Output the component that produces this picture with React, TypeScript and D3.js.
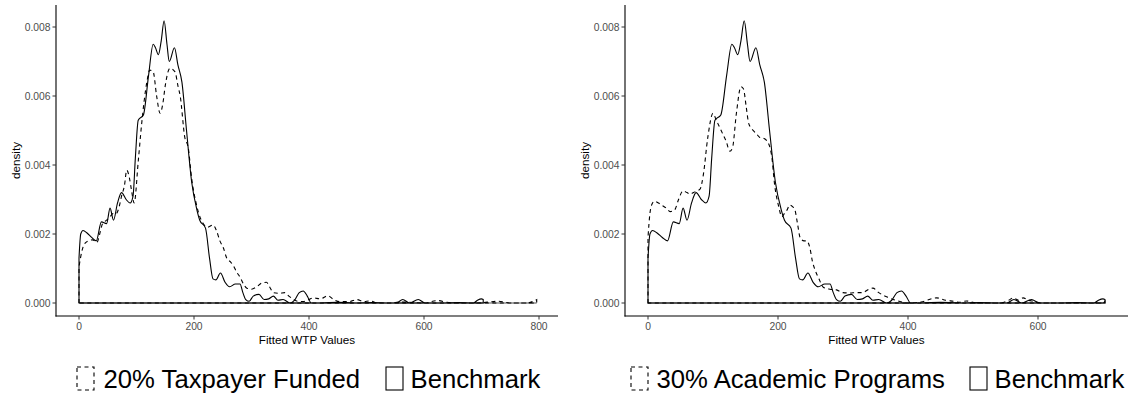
import React from "react";
import * as d3 from "d3";

// Benchmark density (solid)
const benchX = [0, 3, 7, 14, 22, 30, 39, 48, 54, 60, 67, 74, 82, 89, 94, 98, 103, 112, 121, 129, 133, 138, 143, 148, 153, 157, 166, 172, 179, 187, 196, 205, 210, 220, 227, 233, 238, 246, 254, 262, 272, 280, 285, 290, 296, 303, 313, 322, 330, 338, 346, 355, 367, 375, 383, 390, 397, 404, 420, 450, 480, 510, 540, 552, 563, 575, 590, 602, 630, 660, 686, 693, 700, 703];
const benchY = [0.0013, 0.002, 0.0021, 0.00203, 0.0019, 0.0018, 0.00235, 0.0023, 0.00275, 0.0024, 0.0029, 0.0032, 0.003, 0.0029, 0.0031, 0.0042, 0.0053, 0.00545, 0.0066, 0.0075, 0.0074, 0.0072, 0.0076, 0.00818, 0.0075, 0.007, 0.0074, 0.0069, 0.0064, 0.005, 0.0035, 0.0027, 0.0024, 0.00217, 0.0013, 0.0007, 0.00067, 0.00087, 0.0006, 0.00047, 0.00055, 0.00055, 0.0003, 0.0001, 0.00005, 0.0002, 0.00025, 0.0001, 0.00012, 0.0002, 0.00008, 0.0001, 0.0, 0.00008, 0.0003, 0.00035, 0.0002, 0.0, 0.0, 0.00002, 0.0, 0.00001, 0.0, 0.0, 0.0001, 0.0, 0.0001, 0.0, 0.0, 0.00001, 0.0, 0.00008, 0.00012, 0.0001];

// 20% Taxpayer Funded density (dashed, left panel)
const taxX = [0, 5, 9, 16, 24, 31, 36, 41, 48, 54, 60, 65, 70, 74, 79, 83, 88, 91, 96, 103, 109, 118, 123, 129, 135, 141, 146, 150, 158, 167, 172, 176, 184, 190, 196, 205, 216, 224, 233, 239, 245, 251, 257, 263, 268, 274, 280, 286, 292, 300, 309, 318, 326, 332, 338, 348, 358, 365, 372, 380, 390, 400, 407, 420, 433, 443, 453, 470, 483, 495, 506, 520, 540, 560, 600, 624, 640, 660, 690, 730, 750, 780, 790, 796];
const taxY = [0.00105, 0.0015, 0.0017, 0.0018, 0.00183, 0.00175, 0.002, 0.0023, 0.0024, 0.0025, 0.0026, 0.0026, 0.0028, 0.0031, 0.0034, 0.00385, 0.0036, 0.0033, 0.0029, 0.0041, 0.0052, 0.0064, 0.00675, 0.0067, 0.006, 0.0055, 0.0058, 0.0063, 0.0068, 0.0067, 0.0063, 0.006, 0.0048, 0.0045, 0.0036, 0.0028, 0.0023, 0.0022, 0.00226, 0.0021, 0.0018, 0.0016, 0.0013, 0.0012, 0.0011, 0.0009, 0.00075, 0.00055, 0.00043, 0.0004, 0.00047, 0.00058, 0.0006, 0.00045, 0.0003, 0.00028, 0.0003, 0.0002, 0.00012, 0.00005, 0.00004, 0.0001, 0.00015, 0.00012, 0.00021, 0.0001, 0.00004, 0.00004, 0.0001, 0.00004, 0.00006, 0.0, 0.0, 0.00003, 0.0, 0.00007, 0.00002, 0.0, 0.0, 0.00005, 0.0, 0.0, 0.00005, 0.0001];

// 30% Academic Programs density (dashed, right panel)
const acadX = [0, 3, 7, 10, 16, 21, 28, 34, 41, 47, 54, 60, 65, 70, 75, 80, 85, 92, 100, 105, 110, 115, 120, 126, 130, 136, 143, 147, 151, 155, 162, 167, 172, 177, 183, 190, 195, 201, 206, 210, 214, 218, 222, 226, 230, 234, 240, 244, 249, 253, 257, 263, 270, 280, 290, 300, 311, 320, 330, 340, 346, 355, 367, 383, 399, 420, 444, 458, 470, 480, 490, 505, 540, 555, 562, 570, 577, 585, 593, 608, 660, 700, 703];
const acadY = [0.0019, 0.0026, 0.0029, 0.00295, 0.0029, 0.00284, 0.00275, 0.00265, 0.0027, 0.003, 0.00325, 0.0032, 0.00316, 0.0032, 0.00325, 0.0033, 0.0037, 0.0048, 0.0055, 0.0053, 0.0051, 0.0049, 0.0047, 0.0044, 0.0045, 0.0055, 0.00627, 0.0062, 0.0057, 0.0052, 0.005, 0.0049, 0.0048, 0.00478, 0.0047, 0.0043, 0.0034, 0.0028, 0.0025, 0.0026, 0.0027, 0.00284, 0.0028, 0.0027, 0.0023, 0.0019, 0.0018, 0.0018, 0.0016, 0.0012, 0.00096, 0.0007, 0.00045, 0.0004, 0.00038, 0.0003, 0.00029, 0.0003, 0.0003, 0.0004, 0.00043, 0.0003, 0.00018, 0.00007, 0.0, 0.00003, 0.00015, 0.00008, 0.00005, 0.00002, 0.00006, 0.0, 0.0, 0.00008, 0.00015, 0.00008, 0.00015, 0.00008, 0.00005, 0.0, 0.0, 0.0, 0.00005];

const yTicks = [0, 0.002, 0.004, 0.006, 0.008];
const leftXTicks = [0, 200, 400, 600, 800];
const rightXTicks = [0, 200, 400, 600];
const leftLabel = "20% Taxpayer Funded";
const rightLabel = "30% Academic Programs";
const benchLabel = "Benchmark";

const FONT = "'Liberation Sans', Arial, Helvetica, sans-serif";

type PanelProps = {
  axisL: number; axisR: number;
  xDomainMax: number; xRange: [number, number];
  xTicks: number[];
  otherX: number[]; otherY: number[];
  label: string;
  legend: { k1: number; t1: number; k2: number; t2: number };
};

const yScale = d3.scaleLinear().domain([0, 0.008]).range([303, 27]);
const axisTop = 5;
const axisBottom = 316;

function densityPath(xs: number[], ys: number[], x: d3.ScaleLinear<number, number>) {
  const pts: [number, number][] = xs.map((v, i) => [x(v), yScale(ys[i])]);
  const line = d3.line().curve(d3.curveMonotoneX)(pts) || "";
  const y0 = yScale(0);
  const first = pts[0][0];
  const last = pts[pts.length - 1][0];
  return `M${first},${y0}L` + line.slice(1) + `L${last},${y0}Z`;
}

function Panel(p: PanelProps) {
  const x = d3.scaleLinear().domain([0, p.xDomainMax]).range(p.xRange);
  const cx = (p.axisL + p.axisR) / 2;
  const kTop = 367, kH = 23, kW = 17;
  const maxX = Math.max(d3.max(benchX) as number, d3.max(p.otherX) as number);
  return (
    <g>
      {/* density curves */}
      <line x1={x(0)} x2={x(maxX)} y1={yScale(0)} y2={yScale(0)} stroke="#555" strokeWidth={1.1} />
      <path d={densityPath(p.otherX, p.otherY, x)} fill="none" stroke="#000" strokeWidth={1.1} strokeDasharray="4,3.5" />
      <path d={densityPath(benchX, benchY, x)} fill="none" stroke="#000" strokeWidth={1.1} />
      {/* axes */}
      <line x1={p.axisL} x2={p.axisL} y1={axisTop} y2={axisBottom + 0.5} stroke="#000" strokeWidth={1.1} />
      <line x1={p.axisL - 0.5} x2={p.axisR} y1={axisBottom} y2={axisBottom} stroke="#000" strokeWidth={1.1} />
      {yTicks.map((t) => (
        <g key={"y" + t}>
          <line x1={p.axisL - 3.5} x2={p.axisL} y1={yScale(t)} y2={yScale(t)} stroke="#333" strokeWidth={1} />
          <text x={p.axisL - 5.5} y={yScale(t)} dy="0.36em" textAnchor="end" fontFamily={FONT} fontSize={10.3} fill="#4D4D4D">
            {d3.format(".3f")(t)}
          </text>
        </g>
      ))}
      {p.xTicks.map((t) => (
        <g key={"x" + t}>
          <line x1={x(t)} x2={x(t)} y1={axisBottom} y2={axisBottom + 3.5} stroke="#333" strokeWidth={1} />
          <text x={x(t)} y={330} textAnchor="middle" fontFamily={FONT} fontSize={10.3} fill="#4D4D4D">
            {t}
          </text>
        </g>
      ))}
      <text x={cx} y={343.5} textAnchor="middle" fontFamily={FONT} fontSize={11.7} fill="#000">Fitted WTP Values</text>
      <text transform={`translate(${p.axisL - 36},${(axisTop + axisBottom) / 2}) rotate(-90)`} textAnchor="middle" fontFamily={FONT} fontSize={11.7} fill="#000">density</text>
      {/* legend */}
      <rect x={p.legend.k1} y={kTop} width={kW} height={kH} fill="none" stroke="#000" strokeWidth={1.1} strokeDasharray="4,3.5" />
      <text x={p.legend.t1} y={388} fontFamily={FONT} fontSize={25.7} fill="#000">{p.label}</text>
      <rect x={p.legend.k2} y={kTop} width={kW} height={kH} fill="none" stroke="#000" strokeWidth={1.1} />
      <text x={p.legend.t2} y={388} fontFamily={FONT} fontSize={25.7} fill="#000">{benchLabel}</text>
    </g>
  );
}

export default function App() {
  return (
    <svg width={1137} height={396} style={{ position: "absolute", left: 0, top: 0, background: "#fff" }}>
      <rect width={1137} height={396} fill="#fff" />
      <Panel axisL={56} axisR={558} xDomainMax={800} xRange={[79, 539]} xTicks={leftXTicks}
        otherX={taxX} otherY={taxY} label={leftLabel}
        legend={{ k1: 77, t1: 103.5, k2: 386, t2: 410.5 }} />
      <Panel axisL={625} axisR={1128} xDomainMax={600} xRange={[648, 1038]} xTicks={rightXTicks}
        otherX={acadX} otherY={acadY} label={rightLabel}
        legend={{ k1: 631, t1: 656.5, k2: 970, t2: 994.5 }} />
    </svg>
  );
}
